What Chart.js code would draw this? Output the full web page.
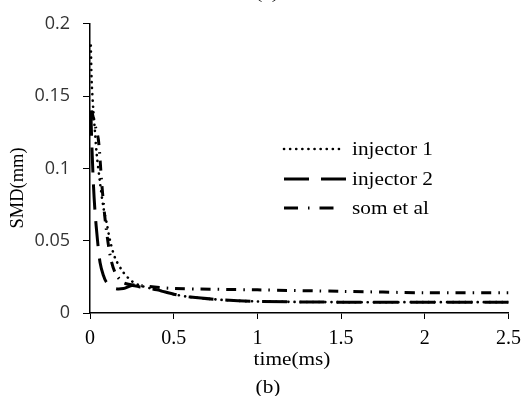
<!DOCTYPE html>
<html>
<head>
<meta charset="utf-8">
<script src="https://cdn.jsdelivr.net/npm/chart.js@4"></script>
<style>
  html, body { margin: 0; padding: 0; background: #fff; }
  #wrap { width: 529px; height: 396px; }
</style>
</head>
<body>
<div id="wrap"><canvas id="smdChart" width="529" height="396"></canvas></div>
<script>
// time (ms) and SMD (mm)
let inj1Time = [0.005, 0.01, 0.02, 0.03, 0.04, 0.06, 0.08, 0.1, 0.12, 0.15, 0.2, 0.25, 0.3, 0.4, 0.5, 0.6, 0.8, 1.0, 1.5, 2.0, 2.5];
let inj1Smd  = [0.185, 0.16, 0.14, 0.125, 0.11, 0.09, 0.073, 0.062, 0.05, 0.038, 0.028, 0.022, 0.019, 0.016, 0.013, 0.011, 0.009, 0.008, 0.0075, 0.0075, 0.0075];

let inj2Time = [0.005, 0.01, 0.02, 0.03, 0.045, 0.06, 0.08, 0.1, 0.15, 0.2, 0.25, 0.3, 0.4, 0.5, 0.6, 0.8, 1.0, 1.5, 2.0, 2.5];
let inj2Smd  = [0.14, 0.12, 0.09, 0.07, 0.05, 0.035, 0.026, 0.021, 0.017, 0.017, 0.019, 0.018, 0.016, 0.013, 0.011, 0.009, 0.008, 0.0075, 0.0075, 0.0075];

let somTime = [0.01, 0.03, 0.05, 0.07, 0.09, 0.12, 0.15, 0.2, 0.3, 0.5, 1.0, 1.5, 2.0, 2.5];
let somSmd  = [0.14, 0.13, 0.12, 0.09, 0.065, 0.04, 0.028, 0.021, 0.019, 0.017, 0.016, 0.015, 0.014, 0.014];

let seriesNames = ['injector 1', 'injector 2', 'som et al'];
let xTicks = [0, 0.5, 1, 1.5, 2, 2.5];
let yTicks = [0, 0.05, 0.1, 0.15, 0.2];

const toPts = (xs, ys) => xs.map((x, i) => ({ x: x, y: ys[i] }));

const dashes = [[0.1, 6], [25, 12], [14, 10, 1.5, 10]];
const widths = [2.6, 3, 3];
const serif = '"Liberation Serif", serif';

// text in the original is a bit wider than tall, so squeeze it out sideways
function wideText(c, txt, x, y, align) {
  c.save();
  c.translate(x, y);
  c.scale(1.15, 1);
  c.textAlign = align;
  c.fillText(txt, 0, 0);
  c.restore();
}

// legend + axis titles drawn straight on the canvas
const labelsPlugin = {
  id: 'labels',
  afterDraw(chart) {
    const c = chart.ctx;
    c.save();
    c.fillStyle = '#000';
    c.strokeStyle = '#000';
    const rows = [149, 179, 208];
    const ends = [342, 347, 335];
    seriesNames.forEach((name, i) => {
      c.beginPath();
      c.setLineDash(dashes[i]);
      c.lineWidth = widths[i];
      c.lineCap = i === 0 ? 'round' : 'butt';
      c.moveTo(284, rows[i]);
      c.lineTo(ends[i], rows[i]);
      c.stroke();
      c.setLineDash([]);
      c.font = '18.5px ' + serif;
      c.textBaseline = 'middle';
      wideText(c, name, 352, rows[i] + 1, 'left');
    });
    c.font = '18.5px ' + serif;
    c.textBaseline = 'middle';
    wideText(c, 'time(ms)', 292, 360, 'center');
    wideText(c, '(b)', 268, 388, 'center');
    wideText(c, '(a)', 267, -7, 'center');
    c.save();
    c.translate(18, 188);
    c.rotate(-Math.PI / 2);
    c.textAlign = 'center';
    c.fillText('SMD(mm)', 0, 0);
    c.restore();
    c.restore();
  }
};

var ctx = document.getElementById('smdChart').getContext('2d');
var smdChart = new Chart(ctx, {
  type: 'line',
  data: {
    datasets: [
      {
        label: seriesNames[0],
        data: toPts(inj1Time, inj1Smd),
        borderColor: '#000',
        borderWidth: widths[0],
        borderDash: dashes[0],
        borderCapStyle: 'round',
        pointRadius: 0,
        tension: 0.3
      },
      {
        label: seriesNames[1],
        data: toPts(inj2Time, inj2Smd),
        borderColor: '#000',
        borderWidth: widths[1],
        borderDash: dashes[1],
        pointRadius: 0,
        tension: 0.3
      },
      {
        label: seriesNames[2],
        data: toPts(somTime, somSmd),
        borderColor: '#000',
        borderWidth: widths[2],
        borderDash: [10, 7, 1.5, 7],
        pointRadius: 0,
        tension: 0.3
      }
    ]
  },
  options: {
    responsive: false,
    animation: false,
    layout: { padding: { top: 20, right: 14, left: 0, bottom: 0 } },
    plugins: {
      legend: { display: false },
      tooltip: { enabled: false }
    },
    scales: {
      x: {
        type: 'linear',
        min: 0,
        max: 2.5,
        afterBuildTicks: axis => { axis.ticks = xTicks.map(v => ({ value: v })); },
        afterFit: axis => { axis.height = 83; },
        border: { color: '#000', width: 1.5 },
        grid: { drawOnChartArea: false, drawTicks: true, tickLength: 6, color: '#000' },
        ticks: {
          color: '#000',
          padding: 8,
          maxRotation: 0,
          font: { family: serif, size: 20 },
          callback: v => String(v)
        }
      },
      y: {
        min: 0,
        max: 0.2,
        afterBuildTicks: axis => { axis.ticks = yTicks.map(v => ({ value: v })); },
        afterFit: axis => { axis.width = 90; },
        border: { color: '#000', width: 1.5 },
        grid: { drawOnChartArea: false, drawTicks: true, tickLength: 7, color: '#000' },
        ticks: {
          color: '#333',
          padding: 13,
          font: { family: '"Open Sans", sans-serif', size: 18 },
          callback: v => String(v)
        }
      }
    }
  },
  plugins: [labelsPlugin]
});
</script>
</body>
</html>
